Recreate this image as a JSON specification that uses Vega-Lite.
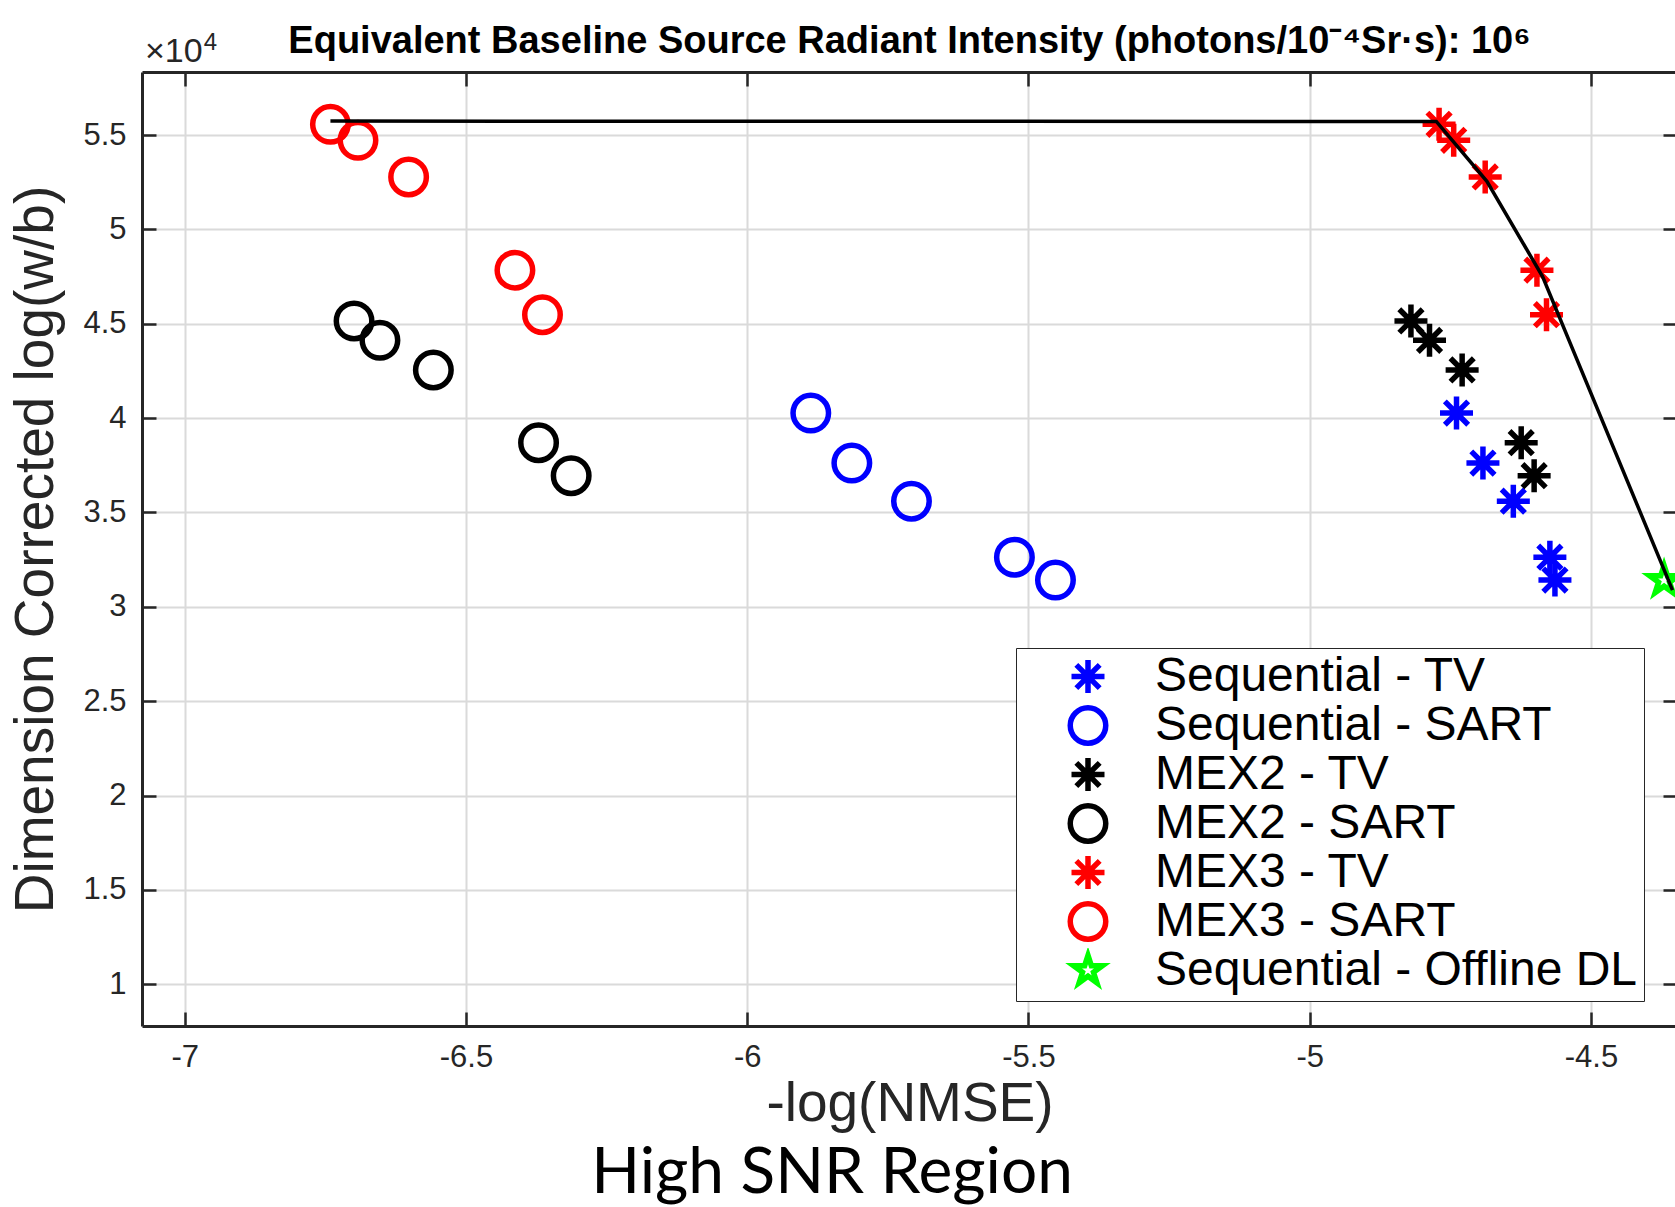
{
  "$schema": "https://vega.github.io/schema/vega-lite/v6.json",
  "width": 1535,
  "height": 954,
  "autosize": {"type": "none"},
  "padding": {"left": 142, "top": 72, "right": 0, "bottom": 181},
  "background": "white",
  "config": {
    "view": {"stroke": null},
    "axis": {
      "labelFont": "Liberation Sans",
      "labelFontSize": 31,
      "labelColor": "#262626",
      "titleFont": "Liberation Sans",
      "titleFontSize": 55,
      "titleFontWeight": "normal",
      "titleColor": "#262626",
      "domainColor": "#262626",
      "domainWidth": 3,
      "tickColor": "#262626",
      "tickWidth": 2.5,
      "gridColor": "#dadada",
      "gridWidth": 2
    }
  },
  "datasets": {
    "pts": [
      {"series": "Sequential - TV", "nmse": -4.739, "dim": 40270},
      {"series": "Sequential - TV", "nmse": -4.692, "dim": 37620},
      {"series": "Sequential - TV", "nmse": -4.638, "dim": 35600},
      {"series": "Sequential - TV", "nmse": -4.573, "dim": 32630},
      {"series": "Sequential - TV", "nmse": -4.564, "dim": 31420},
      {"series": "Sequential - SART", "nmse": -5.887, "dim": 40270},
      {"series": "Sequential - SART", "nmse": -5.814, "dim": 37620},
      {"series": "Sequential - SART", "nmse": -5.708, "dim": 35600},
      {"series": "Sequential - SART", "nmse": -5.525, "dim": 32630},
      {"series": "Sequential - SART", "nmse": -5.452, "dim": 31420},
      {"series": "MEX2 - TV", "nmse": -4.820, "dim": 45150},
      {"series": "MEX2 - TV", "nmse": -4.787, "dim": 44120},
      {"series": "MEX2 - TV", "nmse": -4.729, "dim": 42550},
      {"series": "MEX2 - TV", "nmse": -4.624, "dim": 38700},
      {"series": "MEX2 - TV", "nmse": -4.601, "dim": 36950},
      {"series": "MEX2 - SART", "nmse": -6.699, "dim": 45150},
      {"series": "MEX2 - SART", "nmse": -6.653, "dim": 44120},
      {"series": "MEX2 - SART", "nmse": -6.558, "dim": 42550},
      {"series": "MEX2 - SART", "nmse": -6.371, "dim": 38700},
      {"series": "MEX2 - SART", "nmse": -6.313, "dim": 36950},
      {"series": "MEX3 - TV", "nmse": -4.770, "dim": 55570},
      {"series": "MEX3 - TV", "nmse": -4.744, "dim": 54720},
      {"series": "MEX3 - TV", "nmse": -4.688, "dim": 52780},
      {"series": "MEX3 - TV", "nmse": -4.596, "dim": 47840},
      {"series": "MEX3 - TV", "nmse": -4.579, "dim": 45480},
      {"series": "MEX3 - SART", "nmse": -6.741, "dim": 55570},
      {"series": "MEX3 - SART", "nmse": -6.692, "dim": 54720},
      {"series": "MEX3 - SART", "nmse": -6.602, "dim": 52780},
      {"series": "MEX3 - SART", "nmse": -6.413, "dim": 47840},
      {"series": "MEX3 - SART", "nmse": -6.364, "dim": 45480},
      {"series": "Sequential - Offline DL", "nmse": -4.370, "dim": 31400}
    ],
    "frontier": [
      {"order": 1, "nmse": -6.741, "dim": 55740},
      {"order": 2, "nmse": -4.775, "dim": 55720},
      {"order": 3, "nmse": -4.685, "dim": 52550},
      {"order": 4, "nmse": -4.586, "dim": 47500},
      {"order": 5, "nmse": -4.355, "dim": 30890}
    ]
  },
  "layer": [
    {
      "data": {"name": "pts"},
      "mark": {"type": "point", "filled": false, "strokeWidth": 5.5, "size": 1260, "opacity": 1},
      "encoding": {
        "x": {
          "field": "nmse", "type": "quantitative",
          "scale": {"domain": [-7.076, -4.347], "nice": false, "zero": false},
          "axis": {
            "orient": "bottom", "values": [-7, -6.5, -6, -5.5, -5, -4.5],
            "labelExpr": "'' + datum.value", "tickSize": -14, "labelPadding": 30,
            "grid": true, "title": "-log(NMSE)", "titlePadding": 5
          }
        },
        "y": {
          "field": "dim", "type": "quantitative",
          "scale": {"domain": [7790, 58340], "nice": false, "zero": false},
          "axis": {
            "orient": "left", "values": [10000, 15000, 20000, 25000, 30000, 35000, 40000, 45000, 50000, 55000],
            "labelExpr": "'' + datum.value / 10000", "tickSize": -14, "labelPadding": 30,
            "grid": true, "title": "Dimension Corrected log(w/b)", "titlePadding": 18
          }
        },
        "color": {
          "field": "series", "type": "nominal",
          "scale": {
            "domain": ["Sequential - TV", "Sequential - SART", "MEX2 - TV", "MEX2 - SART", "MEX3 - TV", "MEX3 - SART", "Sequential - Offline DL"],
            "range": ["#0000ff", "#0000ff", "#000000", "#000000", "#ff0000", "#ff0000", "#00ff00"]
          },
          "legend": {
            "title": null, "orient": "none", "legendX": 874, "legendY": 576,
            "strokeColor": "#262626", "fillColor": "white", "padding": 6,
            "labelFont": "Liberation Sans", "labelFontSize": 48, "labelColor": "black", "labelLimit": 0,
            "symbolStrokeWidth": 5.5, "symbolSize": 1260, "rowPadding": 0, "clipHeight": 45,
            "symbolOffset": 42, "labelOffset": 43
          }
        },
        "shape": {
          "field": "series", "type": "nominal",
          "scale": {
            "domain": ["Sequential - TV", "Sequential - SART", "MEX2 - TV", "MEX2 - SART", "MEX3 - TV", "MEX3 - SART", "Sequential - Offline DL"],
            "range": [
              "M0,-0.93L0,0.93M-0.93,0L0.93,0M-0.658,-0.658L0.658,0.658M-0.658,0.658L0.658,-0.658",
              "circle",
              "M0,-0.93L0,0.93M-0.93,0L0.93,0M-0.658,-0.658L0.658,0.658M-0.658,0.658L0.658,-0.658",
              "circle",
              "M0,-0.93L0,0.93M-0.93,0L0.93,0M-0.658,-0.658L0.658,0.658M-0.658,0.658L0.658,-0.658",
              "circle",
              "M0,-0.85L0.191,-0.263L0.808,-0.263L0.309,0.1L0.4996,0.6877L0,0.325L-0.4996,0.6877L-0.309,0.1L-0.808,-0.263L-0.191,-0.263Z"
            ]
          },
          "legend": {
            "title": null, "orient": "none", "legendX": 874, "legendY": 576
          }
        }
      }
    },
    {
      "data": {"name": "frontier"},
      "mark": {"type": "line", "color": "black", "strokeWidth": 3.5},
      "encoding": {
        "x": {
          "field": "nmse", "type": "quantitative",
          "scale": {"domain": [-7.076, -4.347], "nice": false, "zero": false},
          "axis": {"orient": "top", "values": [-7, -6.5, -6, -5.5, -5, -4.5], "labels": false, "grid": false, "tickSize": -14, "title": null}
        },
        "y": {
          "field": "dim", "type": "quantitative",
          "scale": {"domain": [7790, 58340], "nice": false, "zero": false},
          "axis": {"orient": "right", "values": [10000, 15000, 20000, 25000, 30000, 35000, 40000, 45000, 50000, 55000], "labels": false, "grid": false, "tickSize": -14, "title": null}
        },
        "order": {"field": "order", "type": "quantitative"}
      }
    },
    {
      "data": {"values": [{"label": "Equivalent Baseline Source Radiant Intensity (photons/10⁻⁴Sr·s): 10⁶", "nmse": -5.7115, "dim": 59330}]},
      "mark": {"type": "text", "font": "Liberation Sans", "fontWeight": "bold", "fontSize": 38, "color": "black", "align": "center", "baseline": "alphabetic"},
      "encoding": {
        "x": {"field": "nmse", "type": "quantitative", "scale": {"domain": [-7.076, -4.347], "nice": false, "zero": false}, "axis": null},
        "y": {"field": "dim", "type": "quantitative", "scale": {"domain": [7790, 58340], "nice": false, "zero": false}, "axis": null},
        "text": {"field": "label"}
      }
    },
    {
      "data": {"values": [{"label": "×10", "nmse": -7.0708, "dim": 58850}]},
      "mark": {"type": "text", "font": "Liberation Sans", "fontSize": 34, "color": "#262626", "align": "left", "baseline": "alphabetic"},
      "encoding": {
        "x": {"field": "nmse", "type": "quantitative", "scale": {"domain": [-7.076, -4.347], "nice": false, "zero": false}, "axis": null},
        "y": {"field": "dim", "type": "quantitative", "scale": {"domain": [7790, 58340], "nice": false, "zero": false}, "axis": null},
        "text": {"field": "label"}
      }
    },
    {
      "data": {"values": [{"label": "4", "nmse": -6.966, "dim": 59490}]},
      "mark": {"type": "text", "font": "Liberation Sans", "fontSize": 24, "color": "#262626", "align": "left", "baseline": "alphabetic"},
      "encoding": {
        "x": {"field": "nmse", "type": "quantitative", "scale": {"domain": [-7.076, -4.347], "nice": false, "zero": false}, "axis": null},
        "y": {"field": "dim", "type": "quantitative", "scale": {"domain": [7790, 58340], "nice": false, "zero": false}, "axis": null},
        "text": {"field": "label"}
      }
    },
    {
      "data": {"values": [{"label": "High SNR Region", "nmse": -5.849, "dim": -1050}]},
      "mark": {"type": "text", "font": "Lato", "fontSize": 64, "color": "black", "align": "center", "baseline": "alphabetic"},
      "encoding": {
        "x": {"field": "nmse", "type": "quantitative", "scale": {"domain": [-7.076, -4.347], "nice": false, "zero": false}, "axis": null},
        "y": {"field": "dim", "type": "quantitative", "scale": {"domain": [7790, 58340], "nice": false, "zero": false}, "axis": null},
        "text": {"field": "label"}
      }
    }
  ],
  "resolve": {"axis": {"x": "independent", "y": "independent"}}
}
